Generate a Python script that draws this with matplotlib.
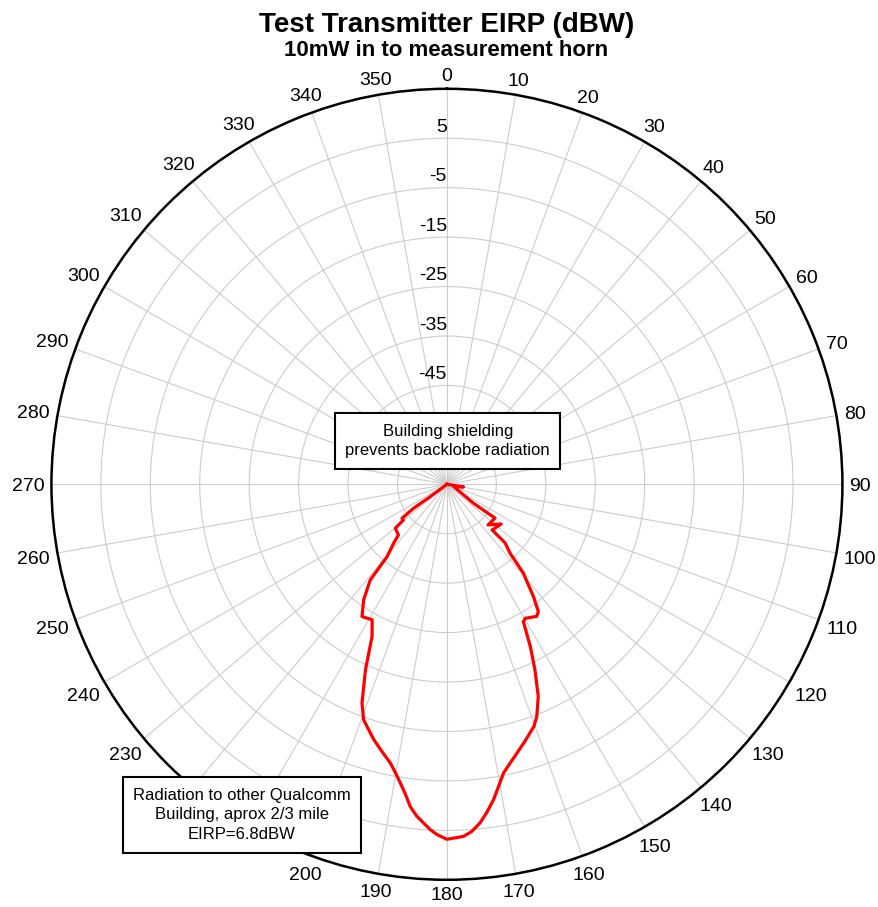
# -*- coding: utf-8 -*-
"""
Test transmitter EIRP polar pattern
"""

import numpy as np
import matplotlib
matplotlib.use('Agg')
import matplotlib.pyplot as plt

plt.rcParams['font.family'] = ['Liberation Sans', 'DejaVu Sans']

#%% data (angle in degrees, EIRP in dBW)

angle_deg = [90, 99, 110, 125.5, 125.1, 134.6, 126.2, 135.3, 135.2, 137.5,
             139.3, 142.4, 144.3, 145.8, 149.7, 150.9, 152.8, 154.6, 156.7,
             158.8, 160.2, 161.5, 163.1, 165.4, 167.2, 168.9, 170.3, 171.6,
             173.1, 174.4, 175.9, 177.3, 180, 181.6, 182.8, 185.2, 186.5,
             187.6, 188.9, 190.1, 191.5, 193.7, 196, 197.7, 199.5, 201.2,
             203.7, 206.2, 208.9, 212.7, 215.8, 218.7, 219.6, 222.1, 223.7,
             229.6, 230.6, 232.9, 234.3, 233.4, 240]
eirp_dbw = [-65, -61.6, -63.5, -58.4, -53.1, -53.3, -51.4, -52.0, -48.3, -46.1,
            -41.3, -36.3, -33.3, -32.7, -33.6, -33.2, -28.1, -23.5, -18.3,
            -14.7, -13.0, -12.0, -10.7, -8.8, -7.2, -5.5, -3.0, -0.5,
            1.9, 3.8, 5.4, 6.3, 6.8, 5.9, 4.9, 2.4, 0.6,
            -1.7, -3.9, -5.7, -7.5, -9.4, -11.3, -12.9, -14.5, -17.5,
            -24.0, -30.7, -33.7, -33.2, -36.2, -40.2, -46.0, -48.9, -50.8,
            -51.3, -53.6, -53.6, -56.7, -60.8, -65]

r_min = -65
r_max = 15
r_grid = [-55, -45, -35, -25, -15, -5, 5]
r_labels = [-45, -35, -25, -15, -5, 5]
theta_ticks = list(range(0, 360, 10))

#%% plot

fig = plt.figure(figsize=(8.79, 9.07), dpi=100)
ax = fig.add_axes([0.0585, 0.030, 0.8999, 0.8721], projection='polar')

ax.set_theta_zero_location('N')
ax.set_theta_direction(-1)
ax.set_rlim(r_min, r_max)

ax.plot(np.radians(angle_deg), eirp_dbw, color='red', linewidth=2.3,
        zorder=3)

ax.set_xticks(np.radians(theta_ticks))
ax.set_xticklabels([])
ax.set_yticks(r_grid)
ax.set_yticklabels([])
ax.grid(color='#cccccc', linewidth=0.8)
ax.spines['polar'].set_linewidth(1.8)

# angle labels outside the circle, pushed out by half their size
fig.canvas.draw()
bb = ax.get_window_extent()
radius_px = bb.width / 2
px_per_db = radius_px / (r_max - r_min)
for t in theta_ticks:
    lab = str(t)
    w = len(lab) * 0.556 * 19.4
    h = 14
    half = 0.5 * (w * abs(np.sin(np.radians(t))) + h * abs(np.cos(np.radians(t))))
    r_lab = r_max + (7 + half) / px_per_db
    ax.text(np.radians(t), r_lab, lab, ha='center', va='center_baseline',
            fontsize=14, clip_on=False)

for v in r_labels:
    ax.text(0, v + 1.3, str(v), ha='right', va='baseline', fontsize=14)

fig.text(0.508, 0.965, 'Test Transmitter EIRP (dBW)', ha='center',
         va='baseline', fontsize=20, fontweight='bold')
fig.text(0.508, 0.938, '10mW in to measurement horn', ha='center',
         va='baseline', fontsize=16, fontweight='bold')

box = dict(boxstyle='square,pad=0.62', fc='white', ec='black', lw=1.5)
fig.text(0.5094, 0.5138, 'Building shielding\nprevents backlobe radiation',
         ha='center', va='center', multialignment='center', fontsize=12,
         linespacing=1.4, bbox=box, zorder=5)
fig.text(0.2753, 0.1015,
         'Radiation to other Qualcomm\nBuilding, aprox 2/3 mile\nEIRP=6.8dBW',
         ha='center', va='center', multialignment='center', fontsize=12,
         linespacing=1.4, bbox=box, zorder=5)

plt.savefig('out.png', dpi=100)
